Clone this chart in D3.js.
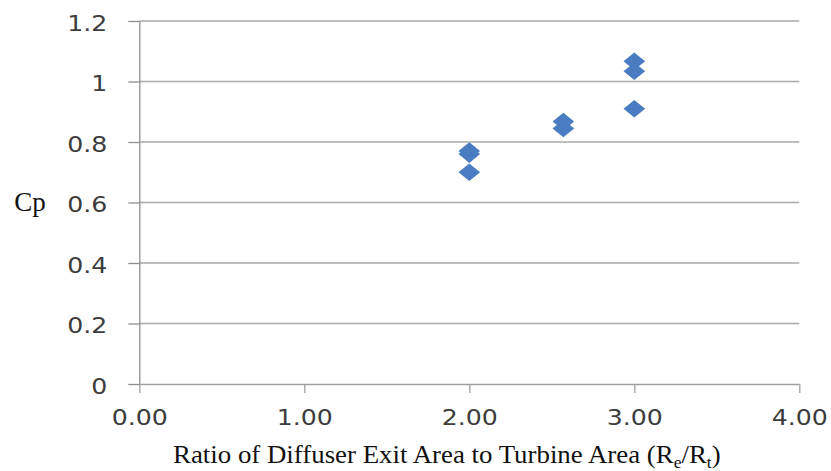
<!DOCTYPE html>
<html>
<head>
<meta charset="utf-8">
<script src="https://cdn.jsdelivr.net/npm/d3@7"></script>
<style>
  body { margin: 0; background: #fff; }
  svg { display: block; }
</style>
</head>
<body>
<svg id="scatter" width="831" height="471"></svg>
<script>
// values
var ratio = [2.00, 2.00, 2.00, 2.57, 2.57, 3.00, 3.00, 3.00];
var cp = [0.77, 0.76, 0.70, 0.868, 0.845, 1.067, 1.034, 0.91];
var xTicks = [0, 1, 2, 3, 4];
var yTicks = [0, 0.2, 0.4, 0.6, 0.8, 1, 1.2];

var svg = d3.select("#scatter"),
    plotLeft = 139.3, plotRight = 799.3, plotTop = 21, plotBottom = 384;

var x = d3.scaleLinear().domain([0, 4]).range([plotLeft, plotRight]);
var y = d3.scaleLinear().domain([0, 1.2]).range([plotBottom, plotTop]);

var stretch = 1.2; // the source picture is widened a bit

// horizontal grid
svg.append("g")
    .selectAll("line")
    .data(yTicks.filter(function (d) { return d > 0; }))
    .enter().append("line")
    .attr("x1", plotLeft).attr("x2", plotRight)
    .attr("y1", function (d) { return y(d); })
    .attr("y2", function (d) { return y(d); })
    .attr("stroke", "#a9a9a9")
    .attr("stroke-width", 1.6);

// y axis
var gy = svg.append("g")
    .attr("transform", "translate(" + plotLeft + ",0)")
    .call(d3.axisLeft(y).tickValues(yTicks).tickSize(11).tickSizeOuter(0)
        .tickFormat(function (d) { return d3.format("")(+d.toFixed(1)); }));
gy.select(".domain").attr("stroke", "#8f8f8f").attr("stroke-width", 1.3);
gy.selectAll(".tick line").attr("stroke", "#8f8f8f").attr("stroke-width", 1.3);
gy.selectAll(".tick text")
    .attr("x", -32 / stretch)
    .attr("dy", "0")
    .attr("y", 9)
    .attr("transform", "scale(" + stretch + ",1)")
    .style("font-family", "DejaVu Sans")
    .style("font-size", "21px")
    .style("fill", "#3c3c3c");

// x axis
var gx = svg.append("g")
    .attr("transform", "translate(0," + plotBottom + ")")
    .call(d3.axisBottom(x).tickValues(xTicks).tickSize(9).tickSizeOuter(0)
        .tickFormat(d3.format(".2f")));
gx.select(".domain").attr("stroke", "#a0a0a0").attr("stroke-width", 1.6);
gx.selectAll(".tick line").attr("stroke", "#a0a0a0").attr("stroke-width", 1.3);
gx.selectAll(".tick text")
    .attr("y", 41)
    .attr("dy", "0")
    .attr("transform", "scale(" + stretch + ",1)")
    .style("font-family", "DejaVu Sans")
    .style("font-size", "21px")
    .style("fill", "#3c3c3c");

// diamonds
var diamond = "M0,-8.8L10.8,0L0,8.8L-10.8,0Z";
svg.append("g")
    .selectAll("path")
    .data(ratio)
    .enter().append("path")
    .attr("d", diamond)
    .attr("transform", function (d, i) {
        return "translate(" + x(d) + "," + y(cp[i]) + ")";
    })
    .attr("fill", "#4a7cc1");

// axis titles
svg.append("text")
    .attr("x", 30).attr("y", 211)
    .attr("text-anchor", "middle")
    .style("font-family", "Liberation Serif")
    .style("font-size", "27px")
    .style("fill", "#111")
    .text("Cp");

var title = svg.append("text")
    .attr("x", 0).attr("y", 0)
    .style("font-family", "Liberation Serif")
    .style("font-size", "26px")
    .style("fill", "#111");
title.append("tspan").text("Ratio of Diffuser Exit Area to Turbine Area (R");
title.append("tspan").attr("dy", 5).style("font-size", "17px").text("e");
title.append("tspan").attr("dy", -5).text("/R");
title.append("tspan").attr("dy", 5).style("font-size", "17px").text("t");
title.append("tspan").attr("dy", -5).text(")");

var w = title.node().getComputedTextLength();
title.attr("transform", "translate(173,463) scale(" + (548 / w) + ",1)");
</script>
</body>
</html>
